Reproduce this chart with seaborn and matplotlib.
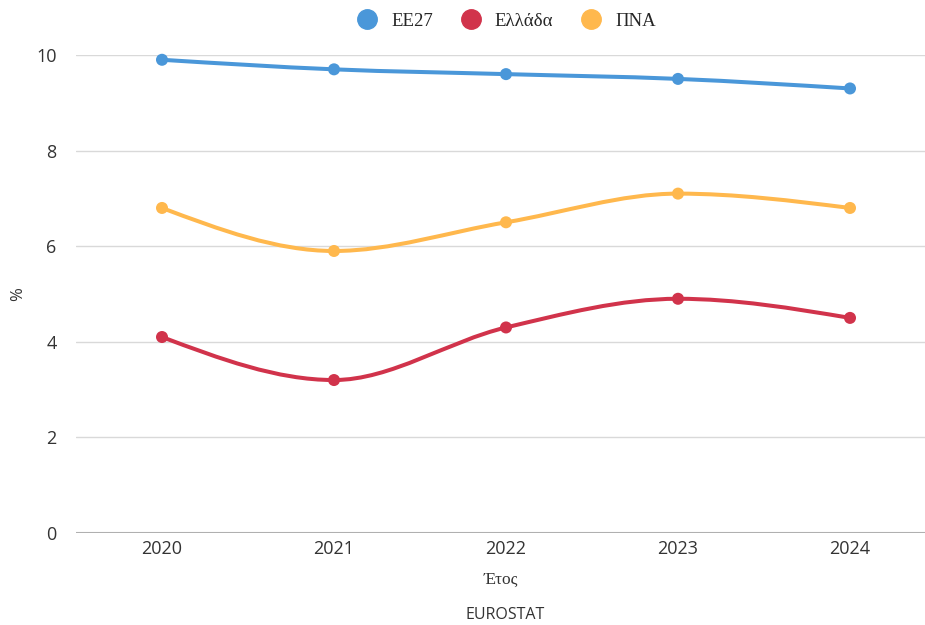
import numpy as np
import pandas as pd
import matplotlib
matplotlib.use("Agg")
import matplotlib.pyplot as plt
from matplotlib.path import Path
from matplotlib.patches import PathPatch
from matplotlib.lines import Line2D
import seaborn as sns

years = ["2020", "2021", "2022", "2023", "2024"]
ee27 = [9.9, 9.7, 9.6, 9.5, 9.3]
ellada = [4.1, 3.2, 4.3, 4.9, 4.5]
pna = [6.8, 5.9, 6.5, 7.1, 6.8]

series_names = ["ΕΕ27", "Ελλάδα", "ΠΝΑ"]
colors = ["#4a97d9", "#d1334b", "#ffb84d"]

df = pd.DataFrame({"Έτος": years, "ΕΕ27": ee27, "Ελλάδα": ellada, "ΠΝΑ": pna})
long = df.melt(id_vars="Έτος", var_name="series", value_name="value")


def monotone_path(x, y):
    # monotone cubic curve through the data points (bezier segments)
    x = np.asarray(x, float)
    y = np.asarray(y, float)
    n = len(x)
    h = np.diff(x)
    s = np.diff(y) / h
    t = np.zeros(n)
    for i in range(1, n - 1):
        if s[i - 1] * s[i] <= 0:
            t[i] = 0
        else:
            p = (s[i - 1] * h[i] + s[i] * h[i - 1]) / (h[i - 1] + h[i])
            t[i] = np.sign(s[i - 1]) * min(abs(s[i - 1]), abs(s[i]), 0.5 * abs(p)) * 2
    t[0] = (3 * s[0] - t[1]) / 2
    t[-1] = (3 * s[-1] - t[-2]) / 2
    verts = [(x[0], y[0])]
    codes = [Path.MOVETO]
    for i in range(n - 1):
        dx = h[i] / 3
        verts += [(x[i] + dx, y[i] + dx * t[i]),
                  (x[i + 1] - dx, y[i + 1] - dx * t[i + 1]),
                  (x[i + 1], y[i + 1])]
        codes += [Path.CURVE4] * 3
    return Path(verts, codes)


sns.set_style("white")
plt.rcParams["font.family"] = ["Open Sans", "DejaVu Sans"]
serif = ["Liberation Serif", "DejaVu Serif"]

fig = plt.figure(figsize=(9.25, 6.25), dpi=100)
ax = fig.add_axes([76 / 925, 92 / 625, 849 / 925, 478 / 625])

xs = np.arange(len(years))
for name, col in zip(series_names, colors):
    patch = PathPatch(monotone_path(xs, df[name]), facecolor="none",
                      edgecolor=col, lw=2.9, zorder=3, clip_on=False)
    ax.add_patch(patch)

sns.scatterplot(data=long, x="Έτος", y="value", hue="series",
                palette=dict(zip(series_names, colors)), s=75,
                edgecolor="none", legend=False, zorder=4, ax=ax, clip_on=False)

ax.set_xlim(-0.5, 4.436)
ax.set_ylim(0, 10)
ax.set_yticks([0, 2, 4, 6, 8, 10])
for v in [2, 4, 6, 8, 10]:
    ax.axhline(v, color="#d9d9d9", lw=1, zorder=1)
ax.axhline(0, color="#b0b0b0", lw=1.5, zorder=1)
for sp in ax.spines.values():
    sp.set_visible(False)
ax.tick_params(axis="both", length=0, labelsize=13, colors="#333333")
ax.tick_params(axis="y", pad=14)
ax.tick_params(axis="x", pad=5)

ax.set_xlabel("Έτος", fontsize=12.5, family=serif, color="#333333", labelpad=10)
ax.set_ylabel("%", fontsize=12, color="#333333")
ax.yaxis.set_label_coords(-0.059, 0.5)

handles = [Line2D([], [], marker="o", ls="none", color=c, markersize=14) for c in colors]
fig.legend(handles, series_names, loc="center", bbox_to_anchor=(502 / 925, 1 - 21 / 625),
           ncol=3, frameon=False, handletextpad=0.3, columnspacing=1.0,
           prop={"family": serif, "size": 13.5})

fig.text(505 / 925, 1 - 615 / 625, "EUROSTAT", ha="center", va="center",
         fontsize=11.5, color="#333333")

fig.savefig("out.png", dpi=100)
